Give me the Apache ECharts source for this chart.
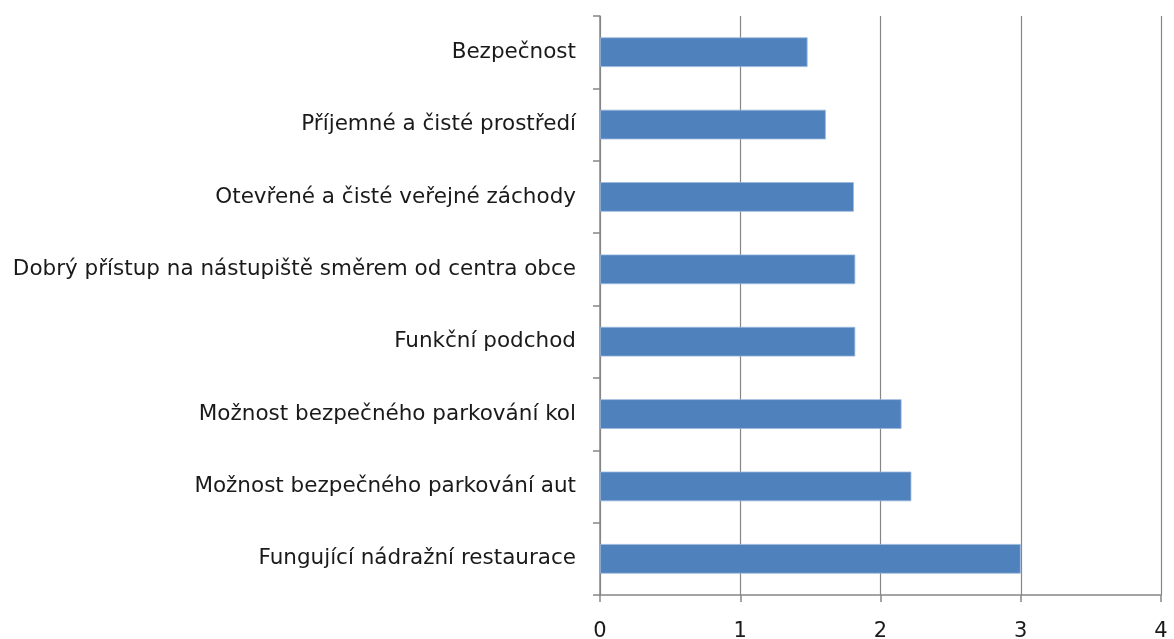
<!DOCTYPE html>
<html>
<head>
<meta charset="utf-8">
<script src="https://cdn.jsdelivr.net/npm/echarts@6/dist/echarts.min.js"></script>
<style>
  html, body { margin: 0; padding: 0; background: #ffffff; }
  #chart { width: 1174px; height: 639px; }
</style>
</head>
<body>
<div id="chart"></div>
<script>
// Categories listed bottom to top, as the category axis draws them
const categories = [
  'Fungující nádražní restaurace',
  'Možnost bezpečného parkování aut',
  'Možnost bezpečného parkování kol',
  'Funkční podchod',
  'Dobrý přístup na nástupiště směrem od centra obce',
  'Otevřené a čisté veřejné záchody',
  'Příjemné a čisté prostředí',
  'Bezpečnost'
];
const scores = [3.0, 2.22, 2.15, 1.82, 1.82, 1.81, 1.61, 1.48];
const axisMin = 0;
const axisMax = 4;
const axisStep = 1;

const chart = echarts.init(document.getElementById('chart'), null, { renderer: 'canvas' });
const gray = '#868686';
const fontFamily = '"DejaVu Sans", Verdana, sans-serif';

chart.setOption({
  animation: false,
  backgroundColor: '#ffffff',
  grid: {
    left: 600, right: 13, top: 16, bottom: 44,
    containLabel: false,
    outerBoundsMode: 'none'
  },
  xAxis: {
    type: 'value',
    min: axisMin,
    max: axisMax,
    interval: axisStep,
    axisLine: { show: true, lineStyle: { color: gray, width: 1.5 } },
    axisTick: { show: true, length: 7, lineStyle: { color: gray, width: 1.5 } },
    splitLine: { show: true, lineStyle: { color: gray, width: 1.2 } },
    axisLabel: { color: '#1a1a1a', fontSize: 21, fontFamily: fontFamily, margin: 26 }
  },
  yAxis: {
    type: 'category',
    data: categories,
    axisLine: { show: true, lineStyle: { color: gray, width: 1.5 } },
    axisTick: { show: true, length: 7, alignWithLabel: false, lineStyle: { color: gray, width: 1.5 } },
    axisLabel: { color: '#1a1a1a', fontSize: 21.5, fontFamily: fontFamily, margin: 24 }
  },
  series: [{
    type: 'bar',
    data: scores,
    barWidth: '41%',
    itemStyle: { color: '#4f81bd', borderColor: '#9bb7dd', borderWidth: 0.8 }
  }]
});
</script>
</body>
</html>
